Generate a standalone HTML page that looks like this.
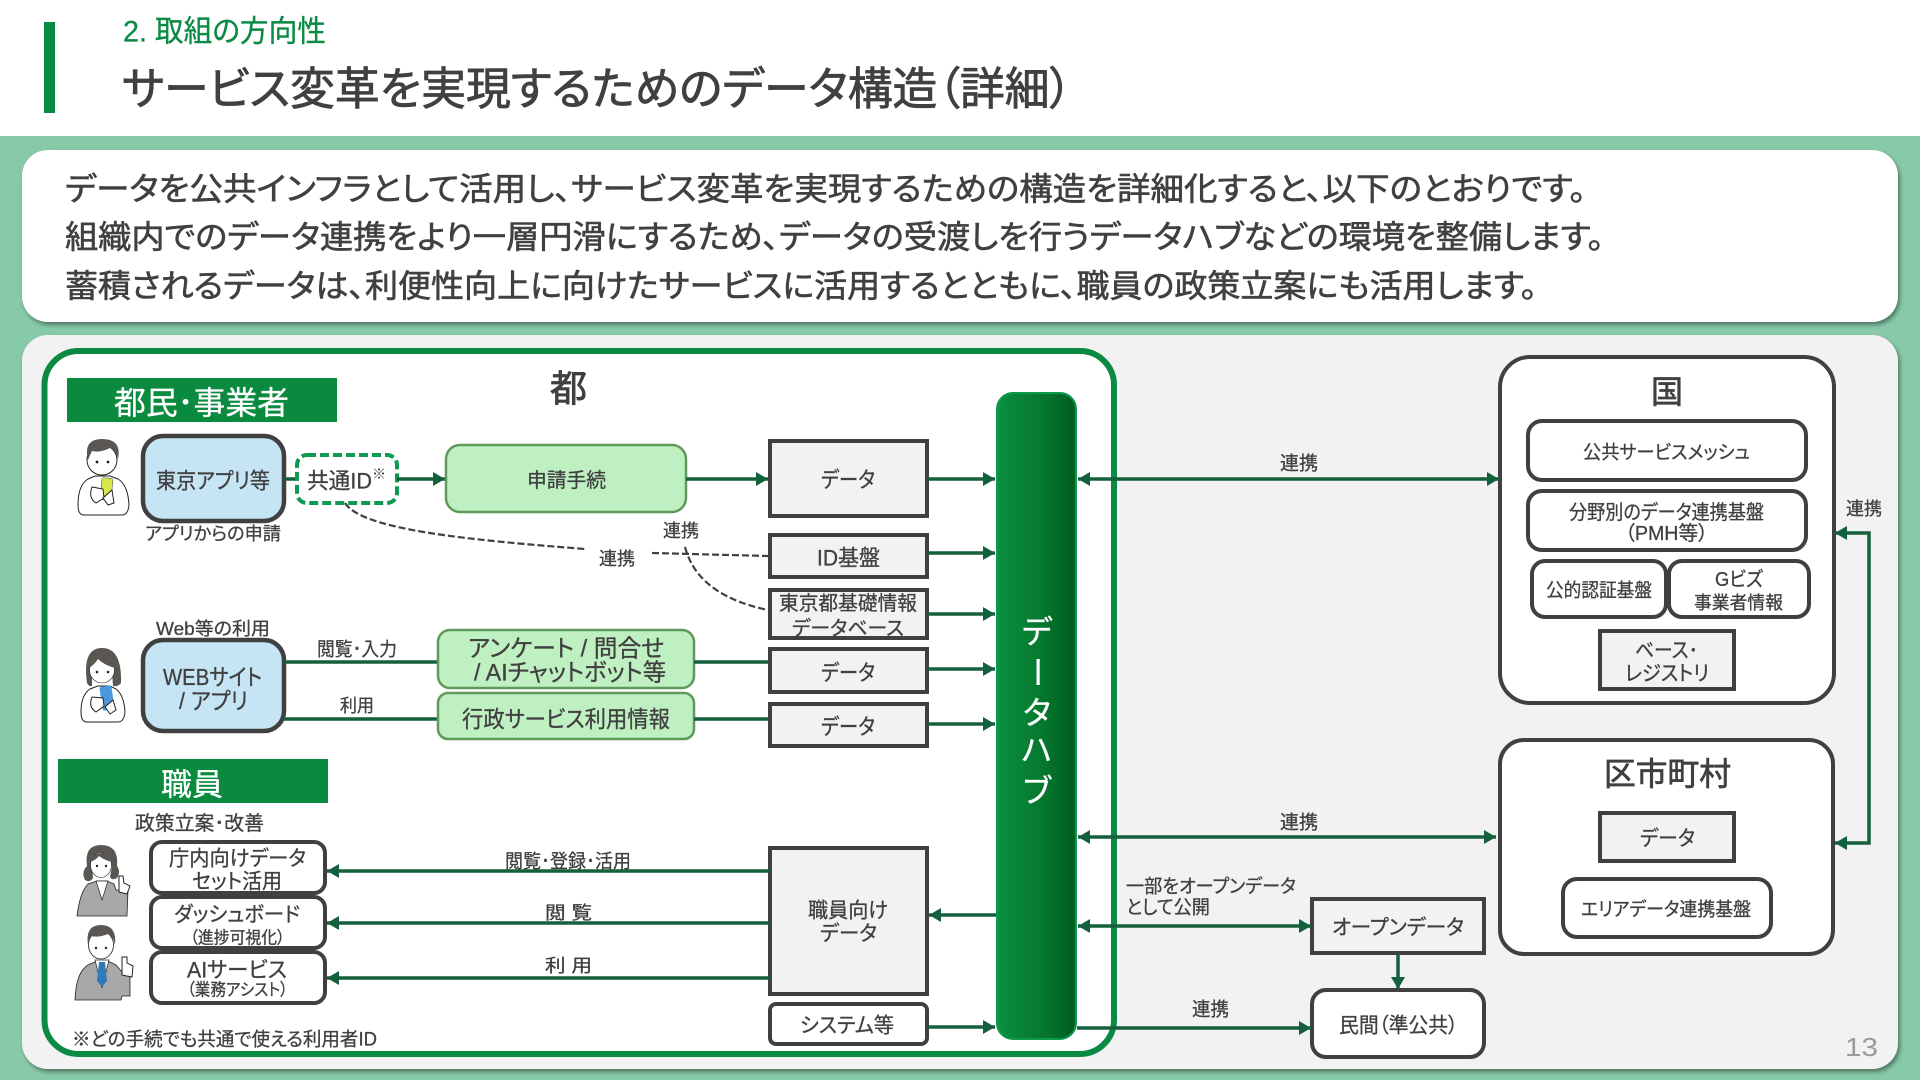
<!DOCTYPE html>
<html lang="ja"><head><meta charset="utf-8"><title>サービス変革を実現するためのデータ構造(詳細)</title>
<style>
html,body{margin:0;padding:0;width:1920px;height:1080px;overflow:hidden;background:#87c9a9}
svg{display:block}
text{font-family:"Liberation Sans","Noto Sans CJK JP",sans-serif;fill:#404040;dominant-baseline:central;font-feature-settings:"palt";stroke:#404040;stroke-width:.3;translate:0 1px}
.h{translate:0 0}
.w{fill:#fff;stroke:#fff;stroke-width:.3}
.b{fill:#fff;stroke:#404040;stroke-width:4}
.g{fill:#f2f2f2;stroke:#404040;stroke-width:4}
.a{stroke:#15603c;stroke-width:3.5;fill:none}
.e{marker-end:url(#m)}
.s{marker-start:url(#m)}
.n{fill:#bff0c2;stroke:#5f9a5a;stroke-width:2.5}
.u{fill:#c5e5f5;stroke:#404040;stroke-width:4.5}
.d{stroke:#404040;stroke-width:2.2;fill:none;stroke-dasharray:7 3}
.o{stroke:#222;stroke-width:1;fill:#fff}
.s1{stroke:#222;stroke-width:.8;fill:#a8a8a8}
.hr{fill:#5a5651}
.k{fill:#222}
</style></head><body>
<svg width="1920" height="1080" viewBox="0 0 1920 1080" xmlns="http://www.w3.org/2000/svg">
<defs>
<marker id="m" markerUnits="userSpaceOnUse" markerWidth="13" markerHeight="14" refX="12" refY="7" orient="auto-start-reverse"><path d="M0 0L12 7L0 14Z" fill="#15603c"/></marker>
<linearGradient id="hub" x1="0" x2="1" y1="0" y2="0"><stop offset="0" stop-color="#0a8f40"/><stop offset=".55" stop-color="#06792f"/><stop offset="1" stop-color="#005d20"/></linearGradient>
<filter id="sh" x="-2%" y="-5%" width="104%" height="110%"><feDropShadow dx="2" dy="3" stdDeviation="2" flood-color="#000" flood-opacity=".4"/></filter>
</defs>

<rect x="0" y="0" width="1920" height="136" fill="#fff"/>
<rect x="44" y="22" width="11" height="91" fill="#0a8a43"/>
<text class="h" x="123" y="32" font-size="30" textLength="203" lengthAdjust="spacingAndGlyphs" style="fill:#0a8a43;stroke:#0a8a43">2. 取組の方向性</text>
<text class="h" x="122" y="89" font-size="45" textLength="950" lengthAdjust="spacingAndGlyphs" style="stroke-width:.8">サービス変革を実現するためのデータ構造（詳細）</text>

<rect x="22" y="150" width="1876" height="172" rx="26" fill="#fff" filter="url(#sh)"/>
<text class="h" x="65" y="189" font-size="32" textLength="1521" lengthAdjust="spacingAndGlyphs" style="stroke-width:.6">データを公共インフラとして活用し、サービス変革を実現するための構造を詳細化すると、以下のとおりです。</text>
<text class="h" x="65" y="237" font-size="32" textLength="1539" lengthAdjust="spacingAndGlyphs" style="stroke-width:.6">組織内でのデータ連携をより一層円滑にするため、データの受渡しを行うデータハブなどの環境を整備します。</text>
<text class="h" x="65" y="286" font-size="32" textLength="1472" lengthAdjust="spacingAndGlyphs" style="stroke-width:.6">蓄積されるデータは、利便性向上に向けたサービスに活用するとともに、職員の政策立案にも活用します。</text>

<rect x="22" y="335" width="1876" height="734" rx="26" fill="#f2f2f2" filter="url(#sh)"/>
<rect x="44.5" y="351" width="1069.5" height="703" rx="34" fill="#fff" stroke="#0a8a43" stroke-width="6"/>

<!-- section labels -->
<rect x="67" y="378" width="270" height="44" fill="#0a8a3e"/>
<text class="w" x="114" y="402" font-size="32" textLength="175" lengthAdjust="spacingAndGlyphs">都民･事業者</text>
<text x="550" y="388" font-size="37" textLength="37" lengthAdjust="spacingAndGlyphs" style="stroke-width:.8">都</text>
<rect x="58" y="759" width="270" height="44" fill="#0a8a3e"/>
<text class="w" x="161" y="784" font-size="31" textLength="62" lengthAdjust="spacingAndGlyphs">職員</text>
<text x="135" y="823" font-size="20" textLength="129" lengthAdjust="spacingAndGlyphs">政策立案･改善</text>

<!-- persons -->
<g>
<path class="o" d="M78 505Q78 485 88 479L95 476H110L118 479Q128 485 129 505Q128 515 122 515H84Q78 515 78 505Z"/>
<ellipse cx="102" cy="460" rx="15" ry="15" fill="#fff" stroke="#222"/>
<path class="hr" d="M88 460Q83 439 102 439Q122 439 118 459Q116 450 110 448Q100 453 92 451Q90 455 88 460Z"/>
<circle class="k" cx="97" cy="462" r="1.4"/><circle class="k" cx="108" cy="462" r="1.4"/>
<rect x="101" y="478" width="11" height="22" rx="2" fill="#d8e84a" stroke="#555" stroke-width=".6" transform="rotate(6 106 489)"/>
<path class="o" d="M92 487Q88 498 96 503L104 498L103 489Z"/>
<path class="o" d="M103 498L108 505L114 503L112 490Z"/>
</g>
<g>
<path class="o" d="M81 712Q81 695 90 689L98 686H110L116 689Q124 695 125 712Q124 722 118 722H87Q81 722 81 712Z"/>
<path class="hr" d="M87 683Q82 648 102 648Q122 648 121 683Q118 687 113 686L112 672H92L92 686Q89 687 87 683Z"/>
<ellipse cx="102" cy="670" rx="12.5" ry="13" fill="#fff" stroke="#222" stroke-width=".6"/>
<path class="hr" d="M89 668Q92 655 103 655Q114 655 115 668Q104 665 98 659Q95 664 89 668Z"/>
<circle class="k" cx="97" cy="672" r="1.3"/><circle class="k" cx="108" cy="672" r="1.3"/>
<rect x="101" y="686" width="12" height="24" rx="2" fill="#4a97e0" transform="rotate(-8 107 698)"/>
<path class="o" d="M92 697Q88 707 96 712L104 706L103 698Z"/>
<path class="o" d="M105 707L110 714L116 710L113 700Z"/>
</g>
<g>
<path class="s1" d="M77 916Q80 892 88 884L97 881H107L114 884L116 890L120 890L122 886L128 890L127 916Z"/>
<path class="hr" d="M85 880Q81 872 87 866Q84 845 101 845Q119 845 117 866Q121 872 117 878Q112 881 110 877L112 866H92L93 878Q90 883 85 880Z"/>
<ellipse cx="101" cy="865" rx="10.5" ry="12.5" fill="#fff" stroke="#222" stroke-width=".6"/>
<path class="hr" d="M90 862Q92 853 103 853Q111 853 112 862Q104 860 99 856Q96 860 90 862Z"/>
<circle class="k" cx="97" cy="866" r="1.2"/><circle class="k" cx="106" cy="866" r="1.2"/>
<path d="M96 881L102 900L108 881Z" fill="#fff" stroke="#222" stroke-width=".7"/>
<path class="o" d="M119 892V876H123L124 883L130 886L127 894Z"/>
</g>
<g>
<path class="s1" d="M75 1000Q76 972 88 965L97 961H108L116 965L122 972L130 977L130 996L122 996L121 1000Z"/>
<ellipse cx="101" cy="945" rx="12.5" ry="14" fill="#fff" stroke="#222" stroke-width=".8"/>
<path class="hr" d="M88 945Q85 925 101 925Q117 925 115 945Q113 936 108 934Q98 938 91 936Q89 940 88 945Z"/>
<circle class="k" cx="96" cy="948" r="1.2"/><circle class="k" cx="106" cy="948" r="1.2"/>
<path d="M95 960L102 988L109 960Z" fill="#fff" stroke="#222" stroke-width=".7"/>
<path d="M99 962H105L107 981L102 987L97 981Z" fill="#2f7ab8"/>
<path class="o" d="M122 975V957L127 957L127 963L133 966L132 977Z"/>
</g>

<!-- citizen side -->
<rect class="u" x="143" y="436" width="141" height="85" rx="20"/>
<text x="156" y="480" font-size="22" textLength="114" lengthAdjust="spacingAndGlyphs">東京アプリ等</text>
<text x="145" y="533" font-size="18" textLength="136" lengthAdjust="spacingAndGlyphs">アプリからの申請</text>
<line class="a" x1="284" y1="479" x2="296" y2="479"/>
<rect x="297" y="455" width="100" height="48" rx="10" fill="#fff" stroke="#0a9a50" stroke-width="4" stroke-dasharray="9 4"/>
<text x="307" y="480" font-size="22" textLength="65" lengthAdjust="spacingAndGlyphs">共通ID</text>
<text x="372" y="473" font-size="14" textLength="14" lengthAdjust="spacingAndGlyphs" style="stroke-width:0">※</text>
<line class="a e" x1="397" y1="479" x2="445" y2="479"/>
<rect class="n" x="446" y="445" width="240" height="67" rx="14"/>
<text x="527" y="480" font-size="20" textLength="79" lengthAdjust="spacingAndGlyphs">申請手続</text>
<line class="a e" x1="686" y1="479" x2="768" y2="479"/>

<text x="156" y="628" font-size="18" textLength="114" lengthAdjust="spacingAndGlyphs">Web等の利用</text>
<rect class="u" x="143" y="640" width="141" height="91" rx="20"/>
<text x="163" y="676" font-size="23" textLength="99" lengthAdjust="spacingAndGlyphs">WEBサイト</text>
<text x="179" y="700" font-size="23" textLength="69" lengthAdjust="spacingAndGlyphs">/ アプリ</text>
<text x="317" y="649" font-size="19" textLength="80" lengthAdjust="spacingAndGlyphs">閲覧･入力</text>
<text x="340" y="705" font-size="18" textLength="34" lengthAdjust="spacingAndGlyphs">利用</text>
<line class="a" x1="284" y1="662" x2="438" y2="662"/>
<line class="a" x1="284" y1="719" x2="438" y2="719"/>
<rect class="n" x="438" y="630" width="256" height="58" rx="12"/>
<text x="468" y="648" font-size="24" textLength="196" lengthAdjust="spacingAndGlyphs">アンケート  /  問合せ</text>
<text x="474" y="672" font-size="24" textLength="192" lengthAdjust="spacingAndGlyphs">/ AIチャットボット等</text>
<rect class="n" x="438" y="693" width="256" height="46" rx="10"/>
<text x="462" y="718" font-size="23" textLength="208" lengthAdjust="spacingAndGlyphs">行政サービス利用情報</text>
<line class="a" x1="694" y1="662" x2="769" y2="662"/>
<line class="a" x1="694" y1="719" x2="769" y2="719"/>

<!-- dashed -->
<path class="d" d="M345 503C362 530 470 540 585 549"/>
<path class="d" d="M652 553L768 556"/>
<path class="d" d="M685 547C695 585 730 602 768 610"/>
<text x="599" y="558" font-size="18" textLength="36" lengthAdjust="spacingAndGlyphs">連携</text>
<text x="663" y="530" font-size="18" textLength="36" lengthAdjust="spacingAndGlyphs">連携</text>

<!-- data boxes -->
<rect class="g" x="770" y="441" width="157" height="75"/>
<text x="821" y="479" font-size="22" textLength="54" lengthAdjust="spacingAndGlyphs">データ</text>
<rect class="g" x="770" y="535" width="157" height="42"/>
<text x="817" y="557" font-size="22" textLength="63" lengthAdjust="spacingAndGlyphs">ID基盤</text>
<rect class="g" x="770" y="590" width="157" height="48"/>
<text x="779" y="603" font-size="20" textLength="138" lengthAdjust="spacingAndGlyphs">東京都基礎情報</text>
<text x="792" y="628" font-size="20" textLength="112" lengthAdjust="spacingAndGlyphs">データベース</text>
<rect class="g" x="770" y="649" width="157" height="43"/>
<text x="821" y="672" font-size="22" textLength="54" lengthAdjust="spacingAndGlyphs">データ</text>
<rect class="g" x="770" y="704" width="157" height="42"/>
<text x="821" y="726" font-size="22" textLength="54" lengthAdjust="spacingAndGlyphs">データ</text>
<rect class="g" x="770" y="848" width="157" height="146"/>
<text x="808" y="910" font-size="21" textLength="80" lengthAdjust="spacingAndGlyphs">職員向け</text>
<text x="820" y="933" font-size="21" textLength="57" lengthAdjust="spacingAndGlyphs">データ</text>
<rect class="b" x="770" y="1004" width="157" height="40" rx="6"/>
<text x="800" y="1025" font-size="21" textLength="94" lengthAdjust="spacingAndGlyphs">システム等</text>

<!-- hub arrows -->
<line class="a e" x1="928" y1="479" x2="995" y2="479"/>
<line class="a e" x1="928" y1="553" x2="995" y2="553"/>
<line class="a e" x1="928" y1="614" x2="995" y2="614"/>
<line class="a e" x1="928" y1="669" x2="995" y2="669"/>
<line class="a e" x1="928" y1="724" x2="995" y2="724"/>
<line class="a e" x1="928" y1="1027" x2="995" y2="1027"/>
<line class="a e" x1="996" y1="915" x2="929" y2="915"/>

<rect x="997" y="393" width="79" height="646" rx="16" fill="url(#hub)" stroke="#0d9a4d" stroke-width="2"/>
<g style="text-anchor:middle">
<text class="w" x="1037" y="631" font-size="32">デ</text>
<text class="w" x="1037" y="672" font-size="32" transform="rotate(90 1037 672)" style="translate:0 0">ー</text>
<text class="w" x="1037" y="712" font-size="32">タ</text>
<text class="w" x="1037" y="749" font-size="32">ハ</text>
<text class="w" x="1037" y="790" font-size="32">ブ</text>
</g>

<!-- staff -->
<rect class="b" x="151" y="842" width="174" height="51" rx="11"/>
<text x="169" y="858" font-size="21" textLength="137" lengthAdjust="spacingAndGlyphs">庁内向けデータ</text>
<text x="192" y="881" font-size="21" textLength="90" lengthAdjust="spacingAndGlyphs">セット活用</text>
<rect class="b" x="151" y="897" width="174" height="51" rx="11"/>
<text x="174" y="914" font-size="21" textLength="126" lengthAdjust="spacingAndGlyphs">ダッシュボード</text>
<text x="190" y="937" font-size="17" textLength="95" lengthAdjust="spacingAndGlyphs">（進捗可視化）</text>
<rect class="b" x="151" y="952" width="174" height="51" rx="11"/>
<text x="187" y="969" font-size="22" textLength="100" lengthAdjust="spacingAndGlyphs">AIサービス</text>
<text x="187" y="989" font-size="17" textLength="101" lengthAdjust="spacingAndGlyphs">（業務アシスト）</text>
<line class="a e" x1="769" y1="871" x2="327" y2="871"/>
<line class="a e" x1="769" y1="923" x2="327" y2="923"/>
<line class="a e" x1="769" y1="978" x2="327" y2="978"/>
<text x="505" y="861" font-size="19" textLength="126" lengthAdjust="spacingAndGlyphs">閲覧･登録･活用</text>
<text x="545" y="912" font-size="18" textLength="47" lengthAdjust="spacingAndGlyphs">閲 覧</text>
<text x="545" y="965" font-size="18" textLength="47" lengthAdjust="spacingAndGlyphs">利 用</text>
<text x="72" y="1039" font-size="19" textLength="305" lengthAdjust="spacingAndGlyphs">※どの手続でも共通で使える利用者ID</text>

<!-- right side -->
<rect class="b" x="1500" y="357" width="334" height="346" rx="30"/>
<text x="1651" y="391" font-size="32" textLength="32" lengthAdjust="spacingAndGlyphs" style="stroke-width:.7">国</text>
<rect class="b" x="1528" y="421" width="278" height="59" rx="14"/>
<text x="1583" y="452" font-size="19" textLength="167" lengthAdjust="spacingAndGlyphs">公共サービスメッシュ</text>
<rect class="b" x="1528" y="491" width="278" height="59" rx="14"/>
<text x="1569" y="512" font-size="20" textLength="195" lengthAdjust="spacingAndGlyphs">分野別のデータ連携基盤</text>
<text x="1625" y="533" font-size="20" textLength="83" lengthAdjust="spacingAndGlyphs">（PMH等）</text>
<rect class="b" x="1532" y="561" width="134" height="56" rx="13"/>
<text x="1546" y="590" font-size="19" textLength="106" lengthAdjust="spacingAndGlyphs">公的認証基盤</text>
<rect class="b" x="1669" y="561" width="140" height="56" rx="13"/>
<text x="1715" y="579" font-size="20" textLength="48" lengthAdjust="spacingAndGlyphs">Gビズ</text>
<text x="1694" y="602" font-size="18" textLength="89" lengthAdjust="spacingAndGlyphs">事業者情報</text>
<rect class="g" x="1600" y="631" width="134" height="58"/>
<text x="1635" y="650" font-size="21" textLength="63" lengthAdjust="spacingAndGlyphs">ベース･</text>
<text x="1625" y="673" font-size="21" textLength="84" lengthAdjust="spacingAndGlyphs">レジストリ</text>

<rect class="b" x="1500" y="740" width="333" height="214" rx="24"/>
<text x="1604" y="773" font-size="32" textLength="127" lengthAdjust="spacingAndGlyphs" style="stroke-width:.7">区市町村</text>
<rect class="g" x="1600" y="813" width="134" height="48"/>
<text x="1640" y="838" font-size="21" textLength="55" lengthAdjust="spacingAndGlyphs">データ</text>
<rect class="b" x="1563" y="879" width="208" height="58" rx="14"/>
<text x="1581" y="909" font-size="19" textLength="170" lengthAdjust="spacingAndGlyphs">エリアデータ連携基盤</text>

<rect class="g" x="1312" y="899" width="172" height="54"/>
<text x="1332" y="927" font-size="21" textLength="132" lengthAdjust="spacingAndGlyphs">オープンデータ</text>
<rect class="b" x="1312" y="990" width="172" height="67" rx="14"/>
<text x="1339" y="1025" font-size="21" textLength="119" lengthAdjust="spacingAndGlyphs">民間（準公共）</text>

<line class="a e s" x1="1078" y1="479" x2="1499" y2="479"/>
<line class="a e s" x1="1078" y1="837" x2="1496" y2="837"/>
<line class="a e s" x1="1078" y1="926" x2="1311" y2="926"/>
<line class="a e" x1="1077" y1="1028" x2="1311" y2="1028"/>
<line class="a e" x1="1398" y1="954" x2="1398" y2="989"/>
<path class="a e s" d="M1835 533H1869V843H1835"/>

<text x="1280" y="463" font-size="19" textLength="38" lengthAdjust="spacingAndGlyphs">連携</text>
<text x="1280" y="822" font-size="19" textLength="38" lengthAdjust="spacingAndGlyphs">連携</text>
<text x="1192" y="1009" font-size="19" textLength="37" lengthAdjust="spacingAndGlyphs">連携</text>
<text x="1846" y="508" font-size="18" textLength="36" lengthAdjust="spacingAndGlyphs">連携</text>
<text x="1126" y="886" font-size="19" textLength="170" lengthAdjust="spacingAndGlyphs">一部をオープンデータ</text>
<text x="1126" y="907" font-size="19" textLength="84" lengthAdjust="spacingAndGlyphs">として公開</text>
<text x="1845" y="1046" font-size="26" textLength="33" lengthAdjust="spacingAndGlyphs" style="fill:#9a9a9a;stroke-width:0">13</text>
</svg>
</body></html>
